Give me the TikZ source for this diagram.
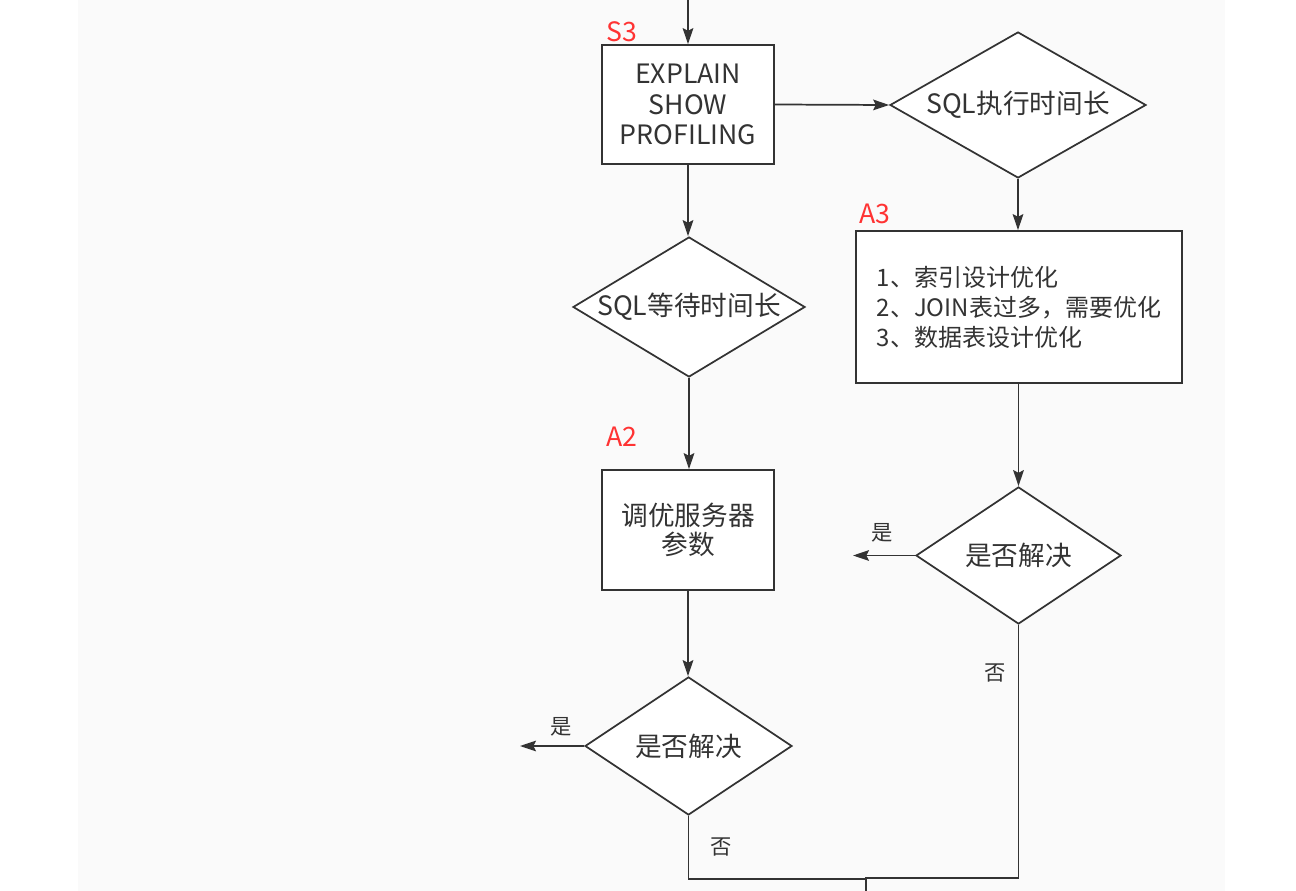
\documentclass[tikz,border=0pt]{standalone}
\usepackage{fontspec}
\setmainfont{Noto Sans CJK SC}
\usepackage{tikz}
\usetikzlibrary{shapes.geometric, arrows.meta, positioning}
\definecolor{lineGrey}{RGB}{51,51,51}
\definecolor{panelGrey}{RGB}{250,250,250}
\definecolor{tagRed}{RGB}{255,51,51}

\begin{document}
\begin{tikzpicture}[x=0.75pt, y=-0.75pt, >={Stealth[length=12pt,width=8pt,inset=2pt]},
    flow/.style={draw=lineGrey, line width=1.3pt, ->},
    wire/.style={draw=lineGrey, line width=1.3pt},
    stepbox/.style={draw=lineGrey, line width=1.3pt, fill=white, rectangle, align=center,
      inner sep=0pt, text=lineGrey, font=\fontsize{20}{23}\selectfont},
    decide/.style={draw=lineGrey, line width=1.3pt, fill=white, diamond, inner sep=0pt,
      text=lineGrey, font=\fontsize{20}{23}\selectfont},
    tag/.style={text=tagRed, font=\fontsize{20}{24}\selectfont, inner sep=0pt},
    answer/.style={text=lineGrey, font=\fontsize{16}{19}\selectfont, inner sep=0pt}]
    % Canvas
    \fill[white] (0,0) rectangle (1296,891);
    \fill[panelGrey] (78,0) rectangle (1225,891);
    \useasboundingbox (0,0) rectangle (1296,891);
    % Step S3
    \node[stepbox, minimum width=129pt, minimum height=89.25pt] (explain) at (688,104.5)
      {EXPLAIN\\SHOW\\PROFILING};
    \node[tag] (tagS3) at (622,32) {S3};
    % Right branch
    \node[decide, minimum width=192pt, minimum height=109.5pt] (execLong) at (1018,105)
      {\makebox[0pt]{SQL执行时间长}};
    \node[stepbox, minimum width=244.5pt, minimum height=114pt, align=left,
      font=\fontsize{18}{22.5}\selectfont] (indexFix) at (1019,307)
      {1、索引设计优化\\2、JOIN表过多，需要优化\\3、数据表设计优化};
    \node[tag] (tagA3) at (875,214) {A3};
    \node[decide, minimum width=153.75pt, minimum height=102.75pt] (solvedR) at (1018.5,555.5)
      {\makebox[0pt]{是否解决}};
    % Left branch
    \node[decide, minimum width=174pt, minimum height=105pt] (waitLong) at (689,307)
      {\makebox[0pt]{SQL等待时间长}};
    \node[stepbox, minimum width=129pt, minimum height=90pt] (tuneServer) at (688,530)
      {\raisebox{-4pt}{\shortstack{调优服务器\\参数}}};
    \node[tag] (tagA2) at (622,437) {A2};
    \node[decide, minimum width=155.25pt, minimum height=103.5pt] (solvedL) at (688.5,746)
      {\makebox[0pt]{是否解决}};
    % Free ends
    \coordinate (topIn) at (688,0);
    \coordinate (yesR) at (853,555.5);
    \coordinate (yesL) at (520,746);
    \coordinate (bendR) at (1018.5,878);
    \coordinate (bendL) at (688.5,879);
    \coordinate (joinPt) at (866,878);
    \coordinate (bottomOut) at (866,891);
    % Connectors
    \draw[flow] (topIn) -- (explain.north);
    \draw[flow] (explain.east) -- (execLong.west);
    \draw[flow] (execLong.south) -- (indexFix.north -| execLong.south);
    \draw[flow] (indexFix.south -| solvedR.north) -- (solvedR.north);
    \draw[flow] (solvedR.west) -- (yesR);
    \draw[flow] (explain.south) -- (waitLong.north -| explain.south);
    \draw[flow] (waitLong.south) -- (tuneServer.north -| waitLong.south);
    \draw[flow] (tuneServer.south) -- (solvedL.north -| tuneServer.south);
    \draw[flow] (solvedL.west) -- (yesL);
    \draw[wire] (solvedR.south) -- (bendR) -- (joinPt) -- (bottomOut);
    \draw[wire] (solvedL.south) -- (bendL) -- (joinPt |- bendL);
    % Answers
    \node[answer] (yesLabR) at (882,533) {是};
    \node[answer] (noLabR) at (995,673) {否};
    \node[answer] (yesLabL) at (561,727) {是};
    \node[answer] (noLabL) at (721,847) {否};
\end{tikzpicture}
\end{document}
